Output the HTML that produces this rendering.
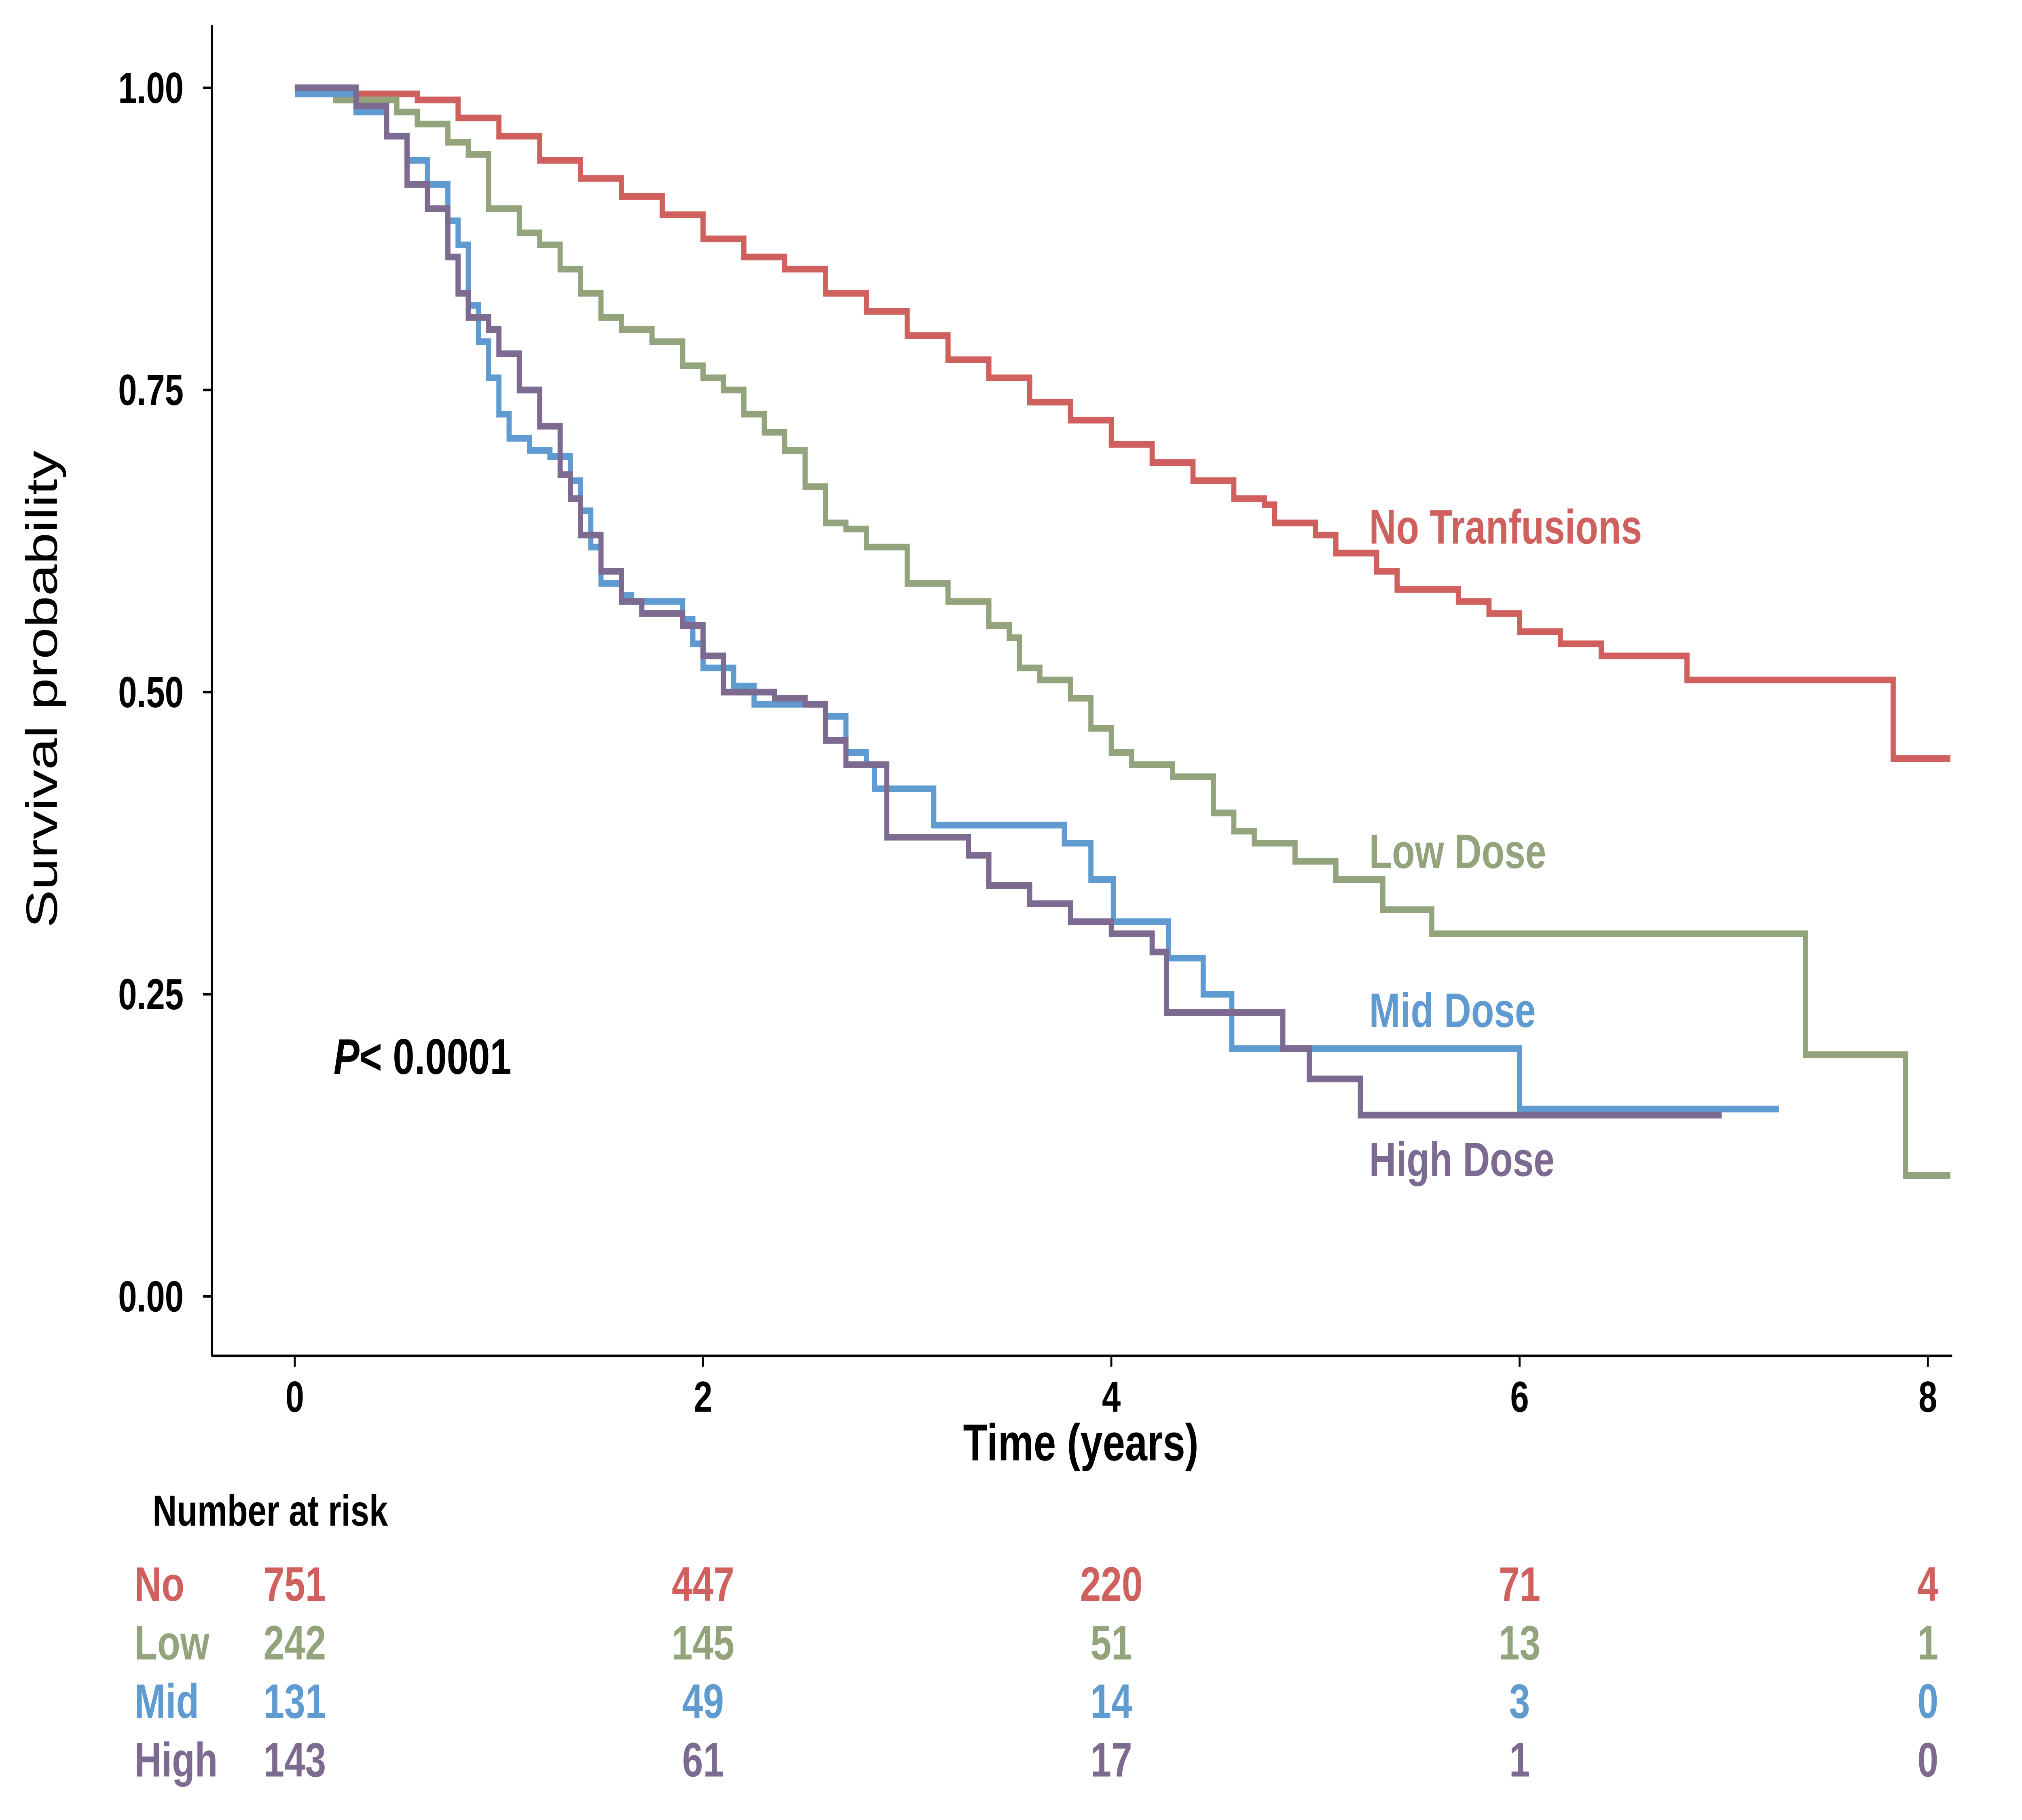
<!DOCTYPE html>
<html>
<head>
<meta charset="utf-8">
<style>
html,body{margin:0;padding:0;background:#fff;width:100%;height:100%;overflow:hidden;}
svg{display:block;position:absolute;left:0;top:0;width:100vw;height:100vh;}
text{font-family:"Liberation Sans",sans-serif;}
</style>
</head>
<body>
<svg id="chart" viewBox="0 0 1564 1088" preserveAspectRatio="none" xmlns="http://www.w3.org/2000/svg">
<rect width="1564" height="1088" fill="#fff"/>
<g id="axes"></g>
<g id="series"></g>
<g id="labels"></g>
</svg>
<script>
const xTicks = [0, 2, 4, 6, 8];
const yTicks = [0, 0.25, 0.5, 0.75, 1.0];
const yTickLabels = ["0.00", "0.25", "0.50", "0.75", "1.00"];
const seriesNames = ["No Tranfusions", "Low Dose", "Mid Dose", "High Dose"];
const seriesColors = ["#d0605e", "#93a37b", "#5f9bd1", "#7c6a90"];
const noTimes = [0,0.3,0.6,0.8,1.0,1.2,1.4,1.6,1.8,2.0,2.2,2.4,2.6,2.8,3.0,3.2,3.4,3.6,3.8,4.0,4.2,4.4,4.6,4.75,4.8,5.0,5.1,5.3,5.4,5.7,5.85,6.0,6.2,6.4,6.82,7.83,8.11];
const noSurv = [1,0.995,0.99,0.975,0.96,0.94,0.925,0.91,0.895,0.875,0.86,0.85,0.83,0.815,0.795,0.775,0.76,0.74,0.725,0.705,0.69,0.675,0.66,0.655,0.64,0.63,0.615,0.6,0.585,0.575,0.565,0.55,0.54,0.53,0.51,0.445,0.445];
const lowTimes = [0,0.2,0.5,0.6,0.75,0.85,0.95,1.1,1.2,1.3,1.4,1.5,1.6,1.75,1.9,2.0,2.1,2.2,2.3,2.4,2.5,2.6,2.7,2.8,3.0,3.2,3.4,3.5,3.55,3.65,3.8,3.9,4.0,4.1,4.3,4.5,4.6,4.7,4.9,5.1,5.33,5.57,7.4,7.89,8.11];
const lowSurv = [1,0.99,0.98,0.97,0.955,0.945,0.9,0.88,0.87,0.85,0.83,0.81,0.8,0.79,0.77,0.76,0.75,0.73,0.715,0.7,0.67,0.64,0.635,0.62,0.59,0.575,0.555,0.545,0.52,0.51,0.495,0.47,0.45,0.44,0.43,0.4,0.385,0.375,0.36,0.345,0.32,0.3,0.2,0.1,0.1];
const midTimes = [0,0.3,0.45,0.55,0.65,0.75,0.8,0.85,0.9,0.95,1.0,1.05,1.15,1.25,1.35,1.4,1.45,1.5,1.6,1.65,1.9,1.95,2.0,2.15,2.25,2.5,2.6,2.7,2.8,2.84,3.13,3.77,3.9,4.01,4.28,4.45,4.59,6.0,7.27];
const midSurv = [0.995,0.98,0.96,0.94,0.92,0.89,0.87,0.82,0.79,0.76,0.73,0.71,0.7,0.695,0.675,0.65,0.62,0.59,0.58,0.575,0.56,0.54,0.52,0.505,0.49,0.49,0.48,0.45,0.44,0.42,0.39,0.375,0.345,0.31,0.28,0.25,0.205,0.155,0.155];
const highTimes = [0,0.1,0.3,0.45,0.55,0.65,0.75,0.8,0.85,0.95,1.0,1.1,1.2,1.3,1.35,1.4,1.5,1.6,1.7,1.9,2.0,2.1,2.2,2.35,2.5,2.6,2.7,2.9,3.3,3.4,3.6,3.8,4.0,4.2,4.27,4.84,4.97,5.22,6.99];
const highSurv = [1,1.0,0.985,0.96,0.92,0.9,0.86,0.83,0.81,0.8,0.78,0.75,0.72,0.68,0.66,0.63,0.6,0.575,0.565,0.555,0.53,0.5,0.5,0.495,0.49,0.46,0.44,0.38,0.365,0.34,0.325,0.31,0.3,0.285,0.235,0.205,0.18,0.15,0.15];
const riskGroups = ["No", "Low", "Mid", "High"];
const riskNo = [751, 447, 220, 71, 4];
const riskLow = [242, 145, 51, 13, 1];
const riskMid = [131, 49, 14, 3, 0];
const riskHigh = [143, 61, 17, 1, 0];

const NS = "http://www.w3.org/2000/svg";
const xS = t => 228 + t * 157.9;
const yS = s => 775 - s * 722.5;
function mk(tag, attrs, parent, txt){
  const e = document.createElementNS(NS, tag);
  for (const k in attrs) e.setAttribute(k, attrs[k]);
  if (txt !== undefined) e.textContent = txt;
  parent.appendChild(e);
  return e;
}
const axes = document.getElementById('axes');
const series = document.getElementById('series');
const labels = document.getElementById('labels');

let a = mk('line', {x1:164,y1:15,x2:164,y2:810.5,stroke:'#000','stroke-width':1.5}, axes);


a = mk('line', {x1:163.5,y1:810.5,x2:1510,y2:810.5,stroke:'#000','stroke-width':1.5}, axes);



yTicks.forEach((v, i) => {
  const y = yS(v);
  const tk = mk('line', {x1:157,y1:y,x2:164,y2:y,stroke:'#000','stroke-width':1.5}, axes);
  
  
  const t = mk('text', {x:142,y:y+9,'text-anchor':'end','font-size':26,'font-weight':'bold'}, axes, yTickLabels[i]);
  
  
});
xTicks.forEach(v => {
  const x = xS(v);
  const tk = mk('line', {x1:x,y1:810,x2:x,y2:817,stroke:'#000','stroke-width':1.5}, axes);
  
  
  const t = mk('text', {x:x,y:844,'text-anchor':'middle','font-size':26,'font-weight':'bold'}, axes, String(v));
  
  
});
let t = mk('text', {x:836,y:873,'text-anchor':'middle','font-size':31,'font-weight':'bold'}, axes, 'Time (years)');


t = mk('text', {x:0,y:0,'text-anchor':'middle','font-size':34,transform:'translate(44,412) rotate(-90)'}, axes, 'Survival probability');



function stepPath(ts, ss){
  let d = 'M' + xS(ts[0]) + ',' + yS(ss[0]);
  for (let i = 1; i < ts.length; i++){
    d += ' H' + xS(ts[i]) + ' V' + yS(ss[i]);
  }
  return d;
}
const allT = [noTimes, lowTimes, midTimes, highTimes];
const allS = [noSurv, lowSurv, midSurv, highSurv];
const keys = ['no-transfusions', 'low-dose', 'mid-dose', 'high-dose'];
for (let i = 0; i < 4; i++){
  const p = mk('path', {d:stepPath(allT[i], allS[i]),fill:'none',stroke:seriesColors[i],'stroke-width':4}, series);
  
  
}
const labelY = [325, 519, 614, 703];
for (let i = 0; i < 4; i++){
  const l = mk('text', {x:1059,y:labelY[i],'font-size':29,'font-weight':'bold',fill:seriesColors[i]}, labels, seriesNames[i]);
  
  
}
t = mk('text', {x:258,y:642,'font-size':30,'font-weight':'bold'}, labels);


mk('tspan', {'font-style':'italic'}, t, 'P');
mk('tspan', {}, t, '< 0.0001');

t = mk('text', {x:118,y:912,'font-size':26,'font-weight':'bold'}, labels, 'Number at risk');


const riskRows = [riskNo, riskLow, riskMid, riskHigh];
const rowY = [957, 992, 1027, 1062];
for (let r = 0; r < 4; r++){
  const g = mk('text', {x:104,y:rowY[r],'font-size':29,'font-weight':'bold',fill:seriesColors[r]}, labels, riskGroups[r]);
  
  
  riskRows[r].forEach((v, c) => {
    const n = mk('text', {x:xS(xTicks[c]),y:rowY[r],'text-anchor':'middle','font-size':29,'font-weight':'bold',fill:seriesColors[r]}, labels, String(v));
    
    
  });
}
</script>
</body>
</html>
